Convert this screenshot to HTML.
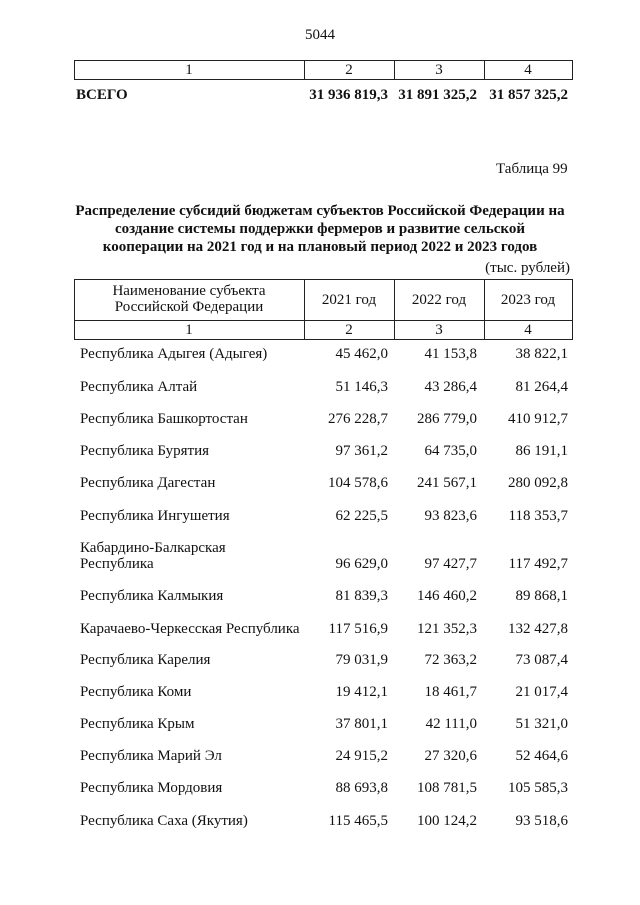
<!DOCTYPE html>
<html><head><meta charset="utf-8"><style>
body{margin:0;width:640px;height:905px;background:#fff;position:relative;font-family:"Liberation Serif","DejaVu Serif",serif;font-size:15px;color:#111;overflow:hidden}
.a{position:absolute;white-space:nowrap;line-height:16px}
.r{position:absolute;white-space:nowrap;text-align:right;line-height:16px}
.c{position:absolute;text-align:center;line-height:16px}
.h{position:absolute;background:#222;height:1px}
.v{position:absolute;background:#222;width:1px}
b{font-weight:bold}
</style></head><body>
<div class="c" style="left:0;width:640px;top:27px">5044</div>
<div class="h" style="left:74px;width:499px;top:60px"></div>
<div class="h" style="left:74px;width:499px;top:79px"></div>
<div class="v" style="left:74px;top:60px;height:20px"></div>
<div class="v" style="left:304px;top:60px;height:20px"></div>
<div class="v" style="left:394px;top:60px;height:20px"></div>
<div class="v" style="left:484px;top:60px;height:20px"></div>
<div class="v" style="left:572px;top:60px;height:20px"></div>
<div class="c" style="left:74px;width:230px;top:62px">1</div>
<div class="c" style="left:304px;width:90px;top:62px">2</div>
<div class="c" style="left:394px;width:90px;top:62px">3</div>
<div class="c" style="left:484px;width:88px;top:62px">4</div>
<div class="a" style="left:76px;top:87px"><b>ВСЕГО</b></div>
<div class="r" style="right:252px;top:87px"><b>31 936 819,3</b></div>
<div class="r" style="right:163px;top:87px"><b>31 891 325,2</b></div>
<div class="r" style="right:72px;top:87px"><b>31 857 325,2</b></div>

<div class="a" style="left:496px;top:161px">Таблица 99</div>
<div class="c" style="left:50px;width:540px;top:202px;line-height:18px"><b>Распределение субсидий бюджетам субъектов Российской Федерации на<br>создание системы поддержки фермеров и развитие сельской<br>кооперации на 2021 год и на плановый период 2022 и 2023 годов</b></div>
<div class="r" style="right:70px;top:260px">(тыс. рублей)</div>

<div class="h" style="left:74px;width:499px;top:279px"></div>
<div class="h" style="left:74px;width:499px;top:320px"></div>
<div class="h" style="left:74px;width:499px;top:339px"></div>
<div class="v" style="left:74px;top:279px;height:61px"></div>
<div class="v" style="left:304px;top:279px;height:61px"></div>
<div class="v" style="left:394px;top:279px;height:61px"></div>
<div class="v" style="left:484px;top:279px;height:61px"></div>
<div class="v" style="left:572px;top:279px;height:61px"></div>
<div class="c" style="left:74px;width:230px;top:283px">Наименование субъекта<br>Российской Федерации</div>
<div class="c" style="left:304px;width:90px;top:292px">2021 год</div>
<div class="c" style="left:394px;width:90px;top:292px">2022 год</div>
<div class="c" style="left:484px;width:88px;top:292px">2023 год</div>
<div class="c" style="left:74px;width:230px;top:322px">1</div>
<div class="c" style="left:304px;width:90px;top:322px">2</div>
<div class="c" style="left:394px;width:90px;top:322px">3</div>
<div class="c" style="left:484px;width:88px;top:322px">4</div>

<div class="a" style="left:80px;top:346px">Республика Адыгея (Адыгея)</div><div class="r" style="right:252px;top:346px">45 462,0</div><div class="r" style="right:163px;top:346px">41 153,8</div><div class="r" style="right:72px;top:346px">38 822,1</div>
<div class="a" style="left:80px;top:379px">Республика Алтай</div><div class="r" style="right:252px;top:379px">51 146,3</div><div class="r" style="right:163px;top:379px">43 286,4</div><div class="r" style="right:72px;top:379px">81 264,4</div>
<div class="a" style="left:80px;top:411px">Республика Башкортостан</div><div class="r" style="right:252px;top:411px">276 228,7</div><div class="r" style="right:163px;top:411px">286 779,0</div><div class="r" style="right:72px;top:411px">410 912,7</div>
<div class="a" style="left:80px;top:443px">Республика Бурятия</div><div class="r" style="right:252px;top:443px">97 361,2</div><div class="r" style="right:163px;top:443px">64 735,0</div><div class="r" style="right:72px;top:443px">86 191,1</div>
<div class="a" style="left:80px;top:475px">Республика Дагестан</div><div class="r" style="right:252px;top:475px">104 578,6</div><div class="r" style="right:163px;top:475px">241 567,1</div><div class="r" style="right:72px;top:475px">280 092,8</div>
<div class="a" style="left:80px;top:508px">Республика Ингушетия</div><div class="r" style="right:252px;top:508px">62 225,5</div><div class="r" style="right:163px;top:508px">93 823,6</div><div class="r" style="right:72px;top:508px">118 353,7</div>
<div class="a" style="left:80px;top:540px">Кабардино-Балкарская</div>
<div class="a" style="left:80px;top:556px">Республика</div><div class="r" style="right:252px;top:556px">96 629,0</div><div class="r" style="right:163px;top:556px">97 427,7</div><div class="r" style="right:72px;top:556px">117 492,7</div>
<div class="a" style="left:80px;top:588px">Республика Калмыкия</div><div class="r" style="right:252px;top:588px">81 839,3</div><div class="r" style="right:163px;top:588px">146 460,2</div><div class="r" style="right:72px;top:588px">89 868,1</div>
<div class="a" style="left:80px;top:621px">Карачаево-Черкесская Республика</div><div class="r" style="right:252px;top:621px">117 516,9</div><div class="r" style="right:163px;top:621px">121 352,3</div><div class="r" style="right:72px;top:621px">132 427,8</div>
<div class="a" style="left:80px;top:652px">Республика Карелия</div><div class="r" style="right:252px;top:652px">79 031,9</div><div class="r" style="right:163px;top:652px">72 363,2</div><div class="r" style="right:72px;top:652px">73 087,4</div>
<div class="a" style="left:80px;top:684px">Республика Коми</div><div class="r" style="right:252px;top:684px">19 412,1</div><div class="r" style="right:163px;top:684px">18 461,7</div><div class="r" style="right:72px;top:684px">21 017,4</div>
<div class="a" style="left:80px;top:716px">Республика Крым</div><div class="r" style="right:252px;top:716px">37 801,1</div><div class="r" style="right:163px;top:716px">42 111,0</div><div class="r" style="right:72px;top:716px">51 321,0</div>
<div class="a" style="left:80px;top:748px">Республика Марий Эл</div><div class="r" style="right:252px;top:748px">24 915,2</div><div class="r" style="right:163px;top:748px">27 320,6</div><div class="r" style="right:72px;top:748px">52 464,6</div>
<div class="a" style="left:80px;top:780px">Республика Мордовия</div><div class="r" style="right:252px;top:780px">88 693,8</div><div class="r" style="right:163px;top:780px">108 781,5</div><div class="r" style="right:72px;top:780px">105 585,3</div>
<div class="a" style="left:80px;top:813px">Республика Саха (Якутия)</div><div class="r" style="right:252px;top:813px">115 465,5</div><div class="r" style="right:163px;top:813px">100 124,2</div><div class="r" style="right:72px;top:813px">93 518,6</div>
</body></html>
